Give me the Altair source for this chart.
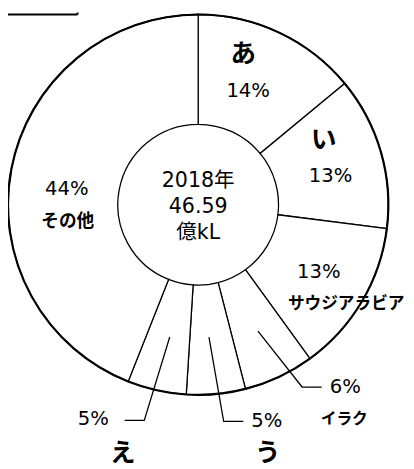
import altair as alt
import pandas as pd

# data
names = ["あ", "い", "サウジアラビア", "イラク", "う", "え", "その他"]
shares = [14, 13, 13, 6, 5, 5, 44]
pct_labels = ["14%", "13%", "13%", "6%", "5%", "5%", "44%"]
center_lines = ["2018年", "46.59", "億kL"]

# layout (pixel positions of annotations inside the chart)
CX, CY = 194, 196
R_OUT, R_IN = 194, 82
name_pos = {
    "あ": (240, 42, 26, "bold"),
    "い": (322, 130, 26, "bold"),
    "サウジアラビア": (345, 297, 17, "bold"),
    "イラク": (343, 415, 16, "bold"),
    "う": (265, 449, 26, "bold"),
    "え": (117, 449, 26, "bold"),
    "その他": (61, 214, 18, "bold"),
}
pct_pos = [(245, 80), (329, 167), (317, 265), (344, 382), (264, 417), (87, 415), (60, 180)]
center_pos = [(194, 172), (194, 198), (194, 225)]
leaders = {
    "イラク": [(255, 325), (300, 382), (320, 382)],
    "う": [(205, 331), (220, 417), (240, 417)],
    "え": [(165, 331), (139, 416), (119, 416)],
}

df = pd.DataFrame({"name": names, "share": shares, "idx": list(range(len(names)))})

base = alt.Chart(df).encode(
    theta=alt.Theta("share:Q", stack=True),
    order=alt.Order("idx:Q"),
    x=alt.value(CX),
    y=alt.value(CY),
)
slices = base.mark_arc(innerRadius=R_IN, outerRadius=R_OUT, fill="white",
                       stroke="black", strokeWidth=1.3)
outer = base.mark_arc(innerRadius=R_OUT, outerRadius=R_OUT, fillOpacity=0,
                      stroke="black", strokeWidth=2.2)

# text layers
bold_rows = [dict(t=n, px=p[0], py=p[1], fs=p[2]) for n, p in name_pos.items()]
norm_rows = [dict(t=t, px=p[0], py=p[1], fs=20) for t, p in zip(pct_labels, pct_pos)]
norm_rows += [dict(t=t, px=p[0], py=p[1], fs=21) for t, p in zip(center_lines, center_pos)]

def text_layer(rows, weight, font):
    return alt.Chart(pd.DataFrame(rows)).mark_text(
        font=font, fontWeight=weight, color="black", align="center", baseline="middle"
    ).encode(
        x=alt.X("px:Q", scale=None),
        y=alt.Y("py:Q", scale=None),
        text="t:N",
        size=alt.Size("fs:Q", scale=None, legend=None),
    )

bold_text = text_layer(bold_rows, "bold", "Noto Sans CJK JP")
norm_text = text_layer(norm_rows, "normal", "DejaVu Sans, Noto Sans CJK JP")

lead_rows = []
for k, pts in leaders.items():
    for i, (x, y) in enumerate(pts):
        lead_rows.append(dict(g=k, s=i, px=x, py=y))
lead = alt.Chart(pd.DataFrame(lead_rows)).mark_line(color="black", strokeWidth=1.3).encode(
    x=alt.X("px:Q", scale=None),
    y=alt.Y("py:Q", scale=None),
    detail="g:N",
    order="s:Q",
)

box_rows = [dict(x=0, y=2, x2=71, y2=2), dict(x=71, y=0, x2=71, y2=2)]
box = alt.Chart(pd.DataFrame(box_rows)).mark_rule(color="black", strokeWidth=2).encode(
    x=alt.X("x:Q", scale=None), y=alt.Y("y:Q", scale=None),
    x2="x2:Q", y2="y2:Q",
)

chart = alt.layer(slices, outer, lead, box, bold_text, norm_text).properties(
    width=406, height=461, padding=0, autosize=alt.AutoSizeParams(type="none")
).configure_view(stroke=None)

chart.save("out.html", embed_options={"renderer": "svg", "actions": False})
